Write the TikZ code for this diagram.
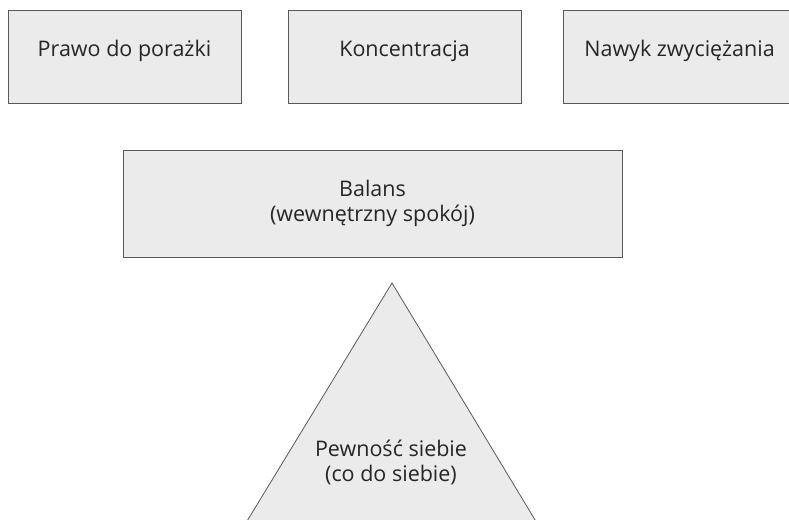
\documentclass[tikz,border=0pt]{standalone}
\usepackage{fontspec}
\setmainfont{Open Sans}
\definecolor{boxfill}{HTML}{EBEBEB}
\definecolor{boxline}{HTML}{595959}
\definecolor{labeltext}{HTML}{262626}
\tikzset{
  pillar/.style={draw=boxline, fill=boxfill, line width=0.8pt,
    minimum width=233pt, minimum height=93pt, inner sep=0pt,
    text height=16pt, text depth=16pt},
}
\begin{document}
\begin{tikzpicture}[x=1pt, y=-1pt,
  every node/.style={font=\fontsize{21.5}{25}\selectfont, text=labeltext}]
\useasboundingbox (0,0) rectangle (789,519);
\clip (0,0) rectangle (789,519);
%
% ---- Top row ----
\node[pillar] (prawo) at (124.5,56.5) {Prawo do porażki};
\node[pillar] (koncentracja) at (404.5,56.5) {Koncentracja};
\node[pillar] (nawyk) at (679.5,56.5) {Nawyk zwyciężania};
%
% ---- Balance ----
\node[draw=boxline, fill=boxfill, line width=0.8pt, minimum width=499pt,
  minimum height=107pt, align=center] (balans) at (372.5,203.5)
  {Balans\\(wewnętrzny spokój)};
%
% ---- Confidence triangle ----
\coordinate (apex) at (392,283);
\coordinate (baseL) at (235.5,540);
\coordinate (baseR) at (547.2,540);
\draw[draw=boxline, fill=boxfill, line width=0.8pt]
  (apex) -- (baseL) -- (baseR) -- cycle;
\node[align=center] (pewnosc) at (391,462)
  {Pewność siebie\\ (co do siebie)};
\end{tikzpicture}
\end{document}
